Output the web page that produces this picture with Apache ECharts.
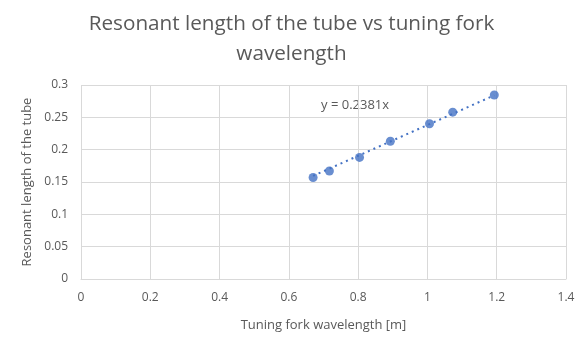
<!DOCTYPE html>
<html><head><meta charset="utf-8">
<script src="https://cdn.jsdelivr.net/npm/echarts@6/dist/echarts.min.js"></script>
<style>html,body{margin:0;padding:0;background:#fff}#c{width:583px;height:344px}</style>
</head><body><div id="c"></div>
<script>
var wavelength = [0.670, 0.717, 0.804, 0.893, 1.006, 1.073, 1.193];
var resonantLength = [0.157, 0.167, 0.188, 0.213, 0.240, 0.258, 0.2845];
var slope = 0.2381;
var trendLabel = 'y = 0.2381x';
var xTicks = [0, 0.2, 0.4, 0.6, 0.8, 1, 1.2, 1.4];
var yTicks = [0, 0.05, 0.1, 0.15, 0.2, 0.25, 0.3];

var pts = wavelength.map(function(x, i){ return [x, resonantLength[i]]; });
var xmin = Math.min.apply(null, wavelength), xmax = Math.max.apply(null, wavelength);
var trend = [[xmin, slope * xmin], [xmax, slope * xmax]];
var font = "'Open Sans', 'Liberation Sans', sans-serif";
var chart = echarts.init(document.getElementById('c'));
chart.setOption({
  animation: false,
  title: {
    text: 'Resonant length of the tube vs tuning fork\nwavelength',
    left: 'center', top: 4,
    textStyle: {color: '#595959', fontSize: 20.7, fontWeight: 'normal', fontFamily: font, lineHeight: 30}
  },
  grid: {left: 81, right: 17, top: 85, bottom: 65},
  xAxis: {
    type: 'value', min: 0, max: 1.4, interval: 0.2,
    name: 'Tuning fork wavelength [m]', nameLocation: 'middle', nameGap: 40,
    nameTextStyle: {color: '#595959', fontSize: 13, fontFamily: font},
    axisLine: {show: true, lineStyle: {color: '#d9d9d9'}},
    axisTick: {show: false},
    axisLabel: {color: '#595959', fontSize: 12, fontFamily: font, margin: 13},
    splitLine: {show: true, lineStyle: {color: '#d9d9d9'}}
  },
  yAxis: {
    type: 'value', min: 0, max: 0.3, interval: 0.05,
    name: 'Resonant length of the tube', nameLocation: 'middle', nameGap: 47, nameRotate: 90,
    nameTextStyle: {color: '#595959', fontSize: 13, fontFamily: font},
    axisLine: {show: false},
    axisTick: {show: false},
    axisLabel: {color: '#595959', fontSize: 12, fontFamily: font, margin: 13},
    splitLine: {show: true, lineStyle: {color: '#d9d9d9'}}
  },
  series: [
    {
      type: 'line', data: trend, symbol: 'none', silent: true,
      lineStyle: {color: '#4472C4', width: 2, type: [2, 4]},
      z: 1
    },
    {
      type: 'scatter', data: pts, symbolSize: 9,
      itemStyle: {color: '#4472C4'}, z: 2
    }
  ],
  graphic: [{
    type: 'text', left: 321, top: 99,
    style: {text: trendLabel, fill: '#595959', fontSize: 13, fontFamily: font}
  }]
});
</script></body></html>
